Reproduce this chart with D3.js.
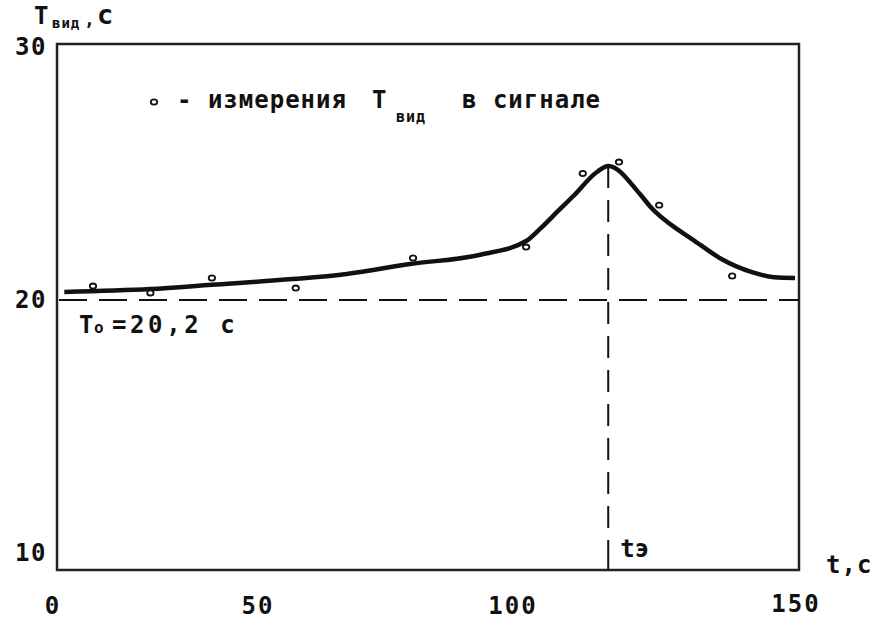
<!DOCTYPE html>
<html>
<head>
<meta charset="utf-8">
<script src="https://cdn.jsdelivr.net/npm/d3@7"></script>
<style>
	body { margin: 0; background: #fff; }
</style>
</head>
<body>
<div class="chart"></div>
<script>
// Measured periods T_vid (s) against time t (s)
var measT = [10, 24, 39, 57.6, 80.6, 102.5, 112.5, 118.9, 126, 138.9];
var measV = [20.55, 20.28, 20.87, 20.47, 21.66, 22.09, 25.0, 25.45, 23.75, 20.95];

// Smoothed curve through the measurements
var curveT = [3, 24, 39, 57, 66, 80, 94, 102.5, 104.9, 108.5, 110.8, 115, 117, 122.6, 124.4, 129.7, 132.3, 137, 142.4, 146.3, 150];
var curveV = [20.32, 20.43, 20.6, 20.83, 20.99, 21.42, 21.8, 22.33, 22.8, 23.6, 24.1, 25.06, 25.3, 24.19, 23.7, 22.72, 22.33, 21.62, 21.1, 20.9, 20.87];

var xTicks = [0, 50, 100, 150];
var yTicks = [10, 20, 30];
var T0 = 20;      // base period
var tE = 117;     // time of the peak

var color = '#111',
	frameColor = '#222',
	font = "'DejaVu Sans Mono', monospace";

var W = 874, H = 620;
var frame = {left: 57, right: 799, top: 44, bottom: 570};

// the scan has slightly uneven tick spacing, so a piecewise scale follows it
var x = d3.scaleLinear().domain(xTicks).range([52, 257, 512, 795]);
var y = d3.scaleLinear().domain([10, 30]).range([553, 47]);

var svg = d3.select('.chart').append('svg')
	.attr('width', W)
	.attr('height', H)
	.style('font-family', font)
	.style('font-weight', 'bold')
	.attr('fill', color);

// plot frame
svg.append('rect')
	.attr('x', frame.left)
	.attr('y', frame.top)
	.attr('width', frame.right - frame.left)
	.attr('height', frame.bottom - frame.top)
	.attr('fill', 'none')
	.attr('stroke', frameColor)
	.attr('stroke-width', 2.5);

// base level T0
svg.append('line')
	.attr('x1', frame.left + 2)
	.attr('x2', frame.right)
	.attr('y1', y(T0))
	.attr('y2', y(T0))
	.attr('stroke', color)
	.attr('stroke-width', 2)
	.attr('stroke-dasharray', '28,12');

// vertical line at t_e, drawn bottom-up so the bottom starts with a dash
var peakV = curveV[curveT.indexOf(tE)];
svg.append('line')
	.attr('x1', x(tE))
	.attr('x2', x(tE))
	.attr('y1', frame.bottom)
	.attr('y2', y(peakV))
	.attr('stroke', color)
	.attr('stroke-width', 2)
	.attr('stroke-dasharray', '30,12,22,12,22,12,22,12,22,12,22,12,22,12,22,12,22,12,22,12,22,12');

// smoothed curve
var curveData = curveT.map(function(t, i) { return {t: t, v: curveV[i]}; });
var line = d3.line()
	.x(function(d) { return x(d.t); })
	.y(function(d) { return y(d.v); })
	.curve(d3.curveMonotoneX);
svg.append('path')
	.datum(curveData)
	.attr('fill', 'none')
	.attr('stroke', color)
	.attr('stroke-width', 4.5)
	.attr('stroke-linejoin', 'round')
	.attr('d', line);

// measurements
var measData = measT.map(function(t, i) { return {t: t, v: measV[i]}; });
svg.selectAll('.meas')
	.data(measData)
	.enter().append('ellipse')
	.attr('class', 'meas')
	.attr('cx', function(d) { return x(d.t); })
	.attr('cy', function(d) { return y(d.v); })
	.attr('rx', 3.2)
	.attr('ry', 2.6)
	.attr('fill', '#fff')
	.attr('stroke', color)
	.attr('stroke-width', 1.8);

// tick labels
svg.selectAll('.xlab')
	.data(xTicks)
	.enter().append('text')
	.attr('class', 'xlab')
	.attr('x', function(d) { return x(d) + 1; })
	.attr('y', function(d) { return d === 150 ? 612 : 614; })
	.attr('text-anchor', 'middle')
	.attr('font-size', '24px')
	.attr('letter-spacing', '2px')
	.text(function(d) { return d; });

svg.selectAll('.ylab')
	.data(yTicks)
	.enter().append('text')
	.attr('class', 'ylab')
	.attr('x', 47)
	.attr('y', function(d) { return y(d) + 8; })
	.attr('text-anchor', 'end')
	.attr('font-size', '24px')
	.attr('letter-spacing', '1.5px')
	.text(function(d) { return d; });

// axis titles
var yt = svg.append('text').attr('y', 24);
yt.append('tspan').attr('x', 34).attr('font-size', '24px').text('T');
yt.append('tspan').attr('x', 52).attr('dy', 4).attr('font-size', '14px').attr('letter-spacing', '1px').text('вид');
yt.append('tspan').attr('x', 84).attr('dy', -2).attr('font-size', '18px').attr('letter-spacing', '0px').text(',');
yt.append('tspan').attr('x', 97).attr('dy', -2).attr('font-size', '27px').text('c');

svg.append('text')
	.attr('x', 826)
	.attr('y', 573)
	.attr('font-size', '24px')
	.attr('letter-spacing', '1px')
	.text('t,c');

// t_e label
svg.append('text')
	.attr('x', x(tE) + 12)
	.attr('y', 557)
	.attr('font-size', '24px')
	.text('tэ');

// T0 label
var t0 = svg.append('text').attr('y', 333);
t0.append('tspan').attr('x', 79).attr('font-size', '24px').text('T');
t0.append('tspan').attr('x', 94).attr('font-size', '16px').text('o');
t0.append('tspan').attr('x', 112).attr('font-size', '24px').attr('letter-spacing', '3.6px').text('=20,2 c');

// legend
svg.append('ellipse')
	.attr('cx', 154)
	.attr('cy', 102)
	.attr('rx', 3.2)
	.attr('ry', 2.6)
	.attr('fill', '#fff')
	.attr('stroke', color)
	.attr('stroke-width', 1.8);
var lg = svg.append('text').attr('y', 108).attr('font-size', '24px').attr('letter-spacing', '1px');
lg.append('tspan').attr('x', 177).text('- измерения');
lg.append('tspan').attr('x', 372).text('T');
lg.append('tspan').attr('x', 396).attr('dy', 14).attr('font-size', '15px').text('вид');
lg.append('tspan').attr('x', 462).attr('dy', -14).text('в сигнале');
</script>
</body>
</html>
